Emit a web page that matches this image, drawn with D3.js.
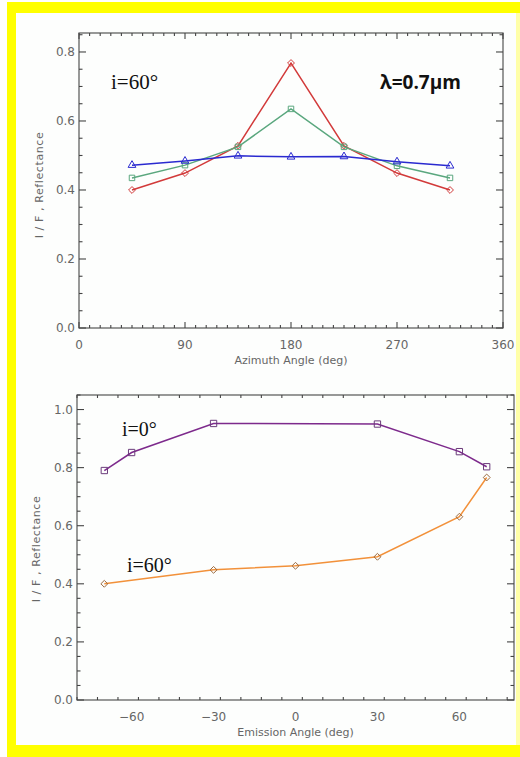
<!DOCTYPE html>
<meta charset="utf-8">
<title>Reflectance vs azimuth and emission</title>
<style>
body {
  margin: 0px;
  background: #fff;
}
svg {
  display: block;
  font-family: "DejaVu Sans", sans-serif;
}
.tick-label {
  font-size: 12px;
  fill: #666;
}
.axis-title {
  font-size: 11px;
  fill: #666;
}
.inc {
  font-family: "Liberation Serif", "Times New Roman", serif;
  fill: #111;
}
</style>

<script src="https://d3js.org/d3.v7.min.js"></script>

<body>
<script>
// top panel: i=60 deg, reflectance against azimuth
var azimuth = [45, 90, 135, 180, 225, 270, 315];
var redVals   = [0.400, 0.449, 0.528, 0.768, 0.528, 0.449, 0.400];
var greenVals = [0.435, 0.472, 0.525, 0.635, 0.525, 0.470, 0.435];
var blueVals  = [0.472, 0.484, 0.499, 0.496, 0.497, 0.482, 0.470];
var azTicks = [0, 90, 180, 270, 360];
var topYTicks = [0.0, 0.2, 0.4, 0.6, 0.8];

// bottom panel: reflectance against emission angle
var emisI0  = [-70, -60, -30, 30, 60, 70];
var valsI0  = [0.790, 0.852, 0.952, 0.950, 0.855, 0.803];
var emisI60 = [-70, -30, 0, 30, 60, 70];
var valsI60 = [0.400, 0.448, 0.462, 0.493, 0.631, 0.766];
var emTicks = [-60, -30, 0, 30, 60];
var botYTicks = [0.0, 0.2, 0.4, 0.6, 0.8, 1.0];

var width = 520, height = 757;
var svg = d3.select("body").append("svg")
    .attr("width", width)
    .attr("height", height);

// yellow frame
svg.append("rect").attr("x", 7).attr("y", 2).attr("width", 513).attr("height", 755)
    .attr("fill", "#ffff00");
svg.append("rect").attr("x", 514).attr("y", 13).attr("width", 6).attr("height", 732)
    .attr("fill", "#ffffa8");
svg.append("rect").attr("x", 16).attr("y", 13).attr("width", 500).attr("height", 732)
    .attr("fill", "#fdfefd");

var diamond = d3.symbolDiamond2 || d3.symbolDiamond;

// draws an IDL style box with inward ticks on all four sides
function drawFrame(g, x, y, xTicks, xMinor, yTicks, yMinor, fmtX, fmtY) {
  var x0 = x.range()[0], x1 = x.range()[1];
  var y0 = y.range()[0], y1 = y.range()[1];
  var axisColor = "#444";
  g.append("rect")
      .attr("x", x0).attr("y", y1)
      .attr("width", x1 - x0).attr("height", y0 - y1)
      .attr("fill", "none").attr("stroke", "#555").attr("stroke-width", 1.2);

  var xm = d3.range(x.domain()[0], x.domain()[1] + 1e-9, xMinor);
  var ym = d3.range(y.domain()[0], y.domain()[1] + 1e-9, yMinor);
  var ticks = g.append("g").attr("stroke", axisColor).attr("stroke-width", 1.1);

  function isMajor(v, list) {
    return list.some(function(t) { return Math.abs(t - v) < 1e-6; });
  }
  xm.forEach(function(v) {
    var len = isMajor(v, xTicks) ? 6 : 3;
    ticks.append("line").attr("x1", x(v)).attr("x2", x(v)).attr("y1", y0).attr("y2", y0 - len);
    ticks.append("line").attr("x1", x(v)).attr("x2", x(v)).attr("y1", y1).attr("y2", y1 + len);
  });
  ym.forEach(function(v) {
    var len = isMajor(v, yTicks) ? 7 : 3.5;
    ticks.append("line").attr("y1", y(v)).attr("y2", y(v)).attr("x1", x0).attr("x2", x0 + len);
    ticks.append("line").attr("y1", y(v)).attr("y2", y(v)).attr("x1", x1).attr("x2", x1 - len);
  });

  g.selectAll(".xl").data(xTicks).enter().append("text")
      .attr("class", "tick-label")
      .attr("x", function(d) { return x(d); })
      .attr("y", y0 + 21)
      .attr("text-anchor", "middle")
      .text(fmtX);
  g.selectAll(".yl").data(yTicks).enter().append("text")
      .attr("class", "tick-label")
      .attr("x", x0 - 4)
      .attr("y", function(d) { return y(d) + 4; })
      .attr("text-anchor", "end")
      .text(fmtY);
}

function drawSeries(g, x, y, xs, ys, color, shape, size, markStroke) {
  var pts = xs.map(function(d, i) { return [x(d), y(ys[i])]; });
  g.append("path")
      .attr("d", d3.line()(pts))
      .attr("fill", "none")
      .attr("stroke", color)
      .attr("stroke-width", 1.5);
  g.selectAll(null).data(pts).enter().append("path")
      .attr("transform", function(p) { return "translate(" + p + ")"; })
      .attr("d", d3.symbol().type(shape).size(size))
      .attr("fill", "none")
      .attr("stroke", markStroke || color)
      .attr("stroke-width", 1);
}

function yTitle(g, xPos, yPos) {
  g.append("text")
      .attr("class", "axis-title")
      .attr("transform", "translate(" + xPos + "," + yPos + ") rotate(-90)")
      .attr("text-anchor", "middle")
      .attr("xml:space", "preserve")
      .style("letter-spacing", "0.6px")
      .text("I / F , Reflectance");
}

var fmt1 = d3.format(".1f");

// ---- top panel ----
var topPanel = svg.append("g");
var xTop = d3.scaleLinear().domain([0, 360]).range([79, 503]);
var yTop = d3.scaleLinear().domain([0, 0.855]).range([328, 33]);
drawFrame(topPanel, xTop, yTop, azTicks, 9, topYTicks, 0.05, d3.format("d"), fmt1);
drawSeries(topPanel, xTop, yTop, azimuth, redVals, "#d23a3a", diamond, 30);
drawSeries(topPanel, xTop, yTop, azimuth, greenVals, "#5aa77e", d3.symbolSquare, 30);
drawSeries(topPanel, xTop, yTop, azimuth, blueVals, "#2a2ad0", d3.symbolTriangle, 26);
topPanel.append("text")
    .attr("class", "axis-title")
    .attr("x", xTop(180)).attr("y", 364)
    .attr("text-anchor", "middle")
    .text("Azimuth Angle (deg)");
yTitle(topPanel, 43, 185);
topPanel.append("text").attr("class", "inc")
    .attr("x", 111).attr("y", 89)
    .style("font-size", "21px")
    .text("i=60°");
topPanel.append("text")
    .attr("x", 380).attr("y", 89)
    .style("font-family", "'Open Sans', sans-serif")
    .style("font-weight", "bold")
    .style("font-size", "19px")
    .attr("fill", "#111")
    .text("λ=0.7μm");

// ---- bottom panel ----
var botPanel = svg.append("g");
var xBot = d3.scaleLinear().domain([-80, 80]).range([77, 514]);
var yBot = d3.scaleLinear().domain([0, 1.05]).range([700, 395]);
drawFrame(botPanel, xBot, yBot, emTicks, 7.5, botYTicks, 0.05, function(d) { return d < 0 ? "\u2212" + (-d) : d; }, fmt1);
drawSeries(botPanel, xBot, yBot, emisI0, valsI0, "#7d2a8c", d3.symbolSquare, 40, "#6a3a7a");
drawSeries(botPanel, xBot, yBot, emisI60, valsI60, "#f2913a", diamond, 30, "#9a6a40");
botPanel.append("text")
    .attr("class", "axis-title")
    .attr("x", xBot(0)).attr("y", 736)
    .attr("text-anchor", "middle")
    .text("Emission Angle (deg)");
yTitle(botPanel, 40, 549);
botPanel.append("text").attr("class", "inc")
    .attr("x", 122).attr("y", 436)
    .style("font-size", "20px")
    .text("i=0°");
botPanel.append("text").attr("class", "inc")
    .attr("x", 127).attr("y", 572)
    .style("font-size", "20px")
    .text("i=60°");
</script>
